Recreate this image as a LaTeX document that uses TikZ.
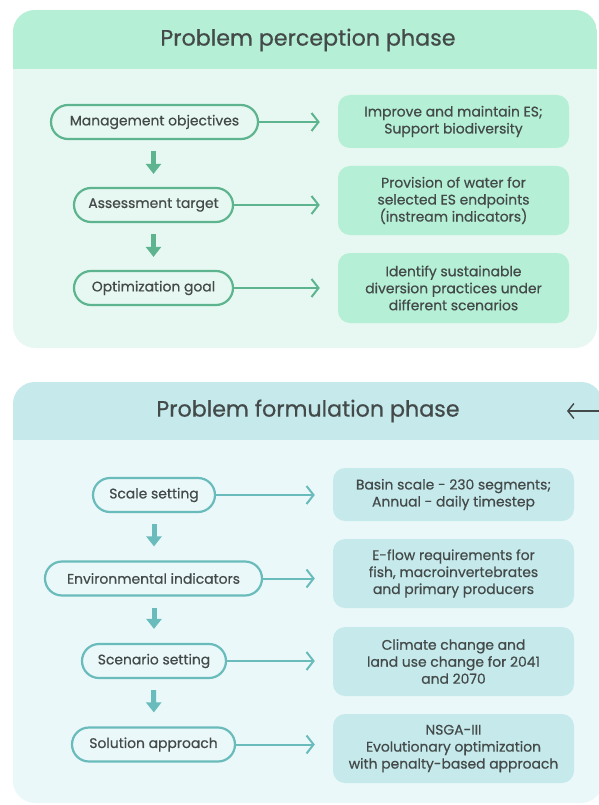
\documentclass[tikz,border=0pt]{standalone}
\usepackage{fontspec}
\setmainfont{Poppins}[FakeBold=0.6]
\usetikzlibrary{arrows.meta}
\definecolor{gHead}{HTML}{B4EFD6}
\definecolor{gBody}{HTML}{E6F8F1}
\definecolor{gLine}{HTML}{5DB48F}
\definecolor{cHead}{HTML}{C6EAEC}
\definecolor{cBody}{HTML}{EAF8F9}
\definecolor{cLine}{HTML}{6ABBBB}
\definecolor{txt}{HTML}{434A49}
\tikzset{
  bodytext/.style={text=txt, font=\fontsize{13.9}{17}\selectfont, align=center},
  titletext/.style={text=txt, font=\fontsize{22.2}{26}\selectfont},
  pill/.style={bodytext, draw=#1, line width=2.2pt, rounded corners=17pt, minimum height=34pt, inner sep=0pt},
  infobox/.style={bodytext, fill=#1, rounded corners=12pt, inner sep=0pt},
  sidearrow/.style={draw=#1, line width=2pt, -{Straight Barb[length=7pt,width=18pt,line width=2pt]}},
  downarrow/.style={draw=#1, line width=5pt, -{Triangle[length=10pt,width=15pt]}},
}
\begin{document}
\begin{tikzpicture}[x=1pt,y=-1pt]
\useasboundingbox (0,0) rectangle (598,805);
% panel 1
\fill[gBody, rounded corners=22pt] (13,10) rectangle (597,348);
\begin{scope}
  \clip[rounded corners=22pt] (13,10) rectangle (597,348);
  \fill[gHead] (13,10) rectangle (597,69);
\end{scope}
\node[titletext] (t1) at (308,40) {Problem perception phase};
% panel 2
\fill[cBody, rounded corners=22pt] (13,382) rectangle (603,803);
\begin{scope}
  \clip[rounded corners=22pt] (13,382) rectangle (603,803);
  \fill[cHead] (13,382) rectangle (603,440);
\end{scope}
\node[titletext] (t2) at (308,411) {Problem formulation phase};
\coordinate (ra1) at (606,411);
\coordinate (ra2) at (567,411);
\draw[draw=txt, line width=1.4pt, -{Straight Barb[length=6pt,width=15pt,line width=1.4pt]}] (ra1) -- (ra2);

% panel 1 pills
\node[pill=gLine, fill=gBody, minimum width=207pt] (mo) at (154.5,122) {Management objectives};
\node[pill=gLine, fill=gBody, minimum width=159pt] (at) at (153.5,205) {Assessment target};
\node[pill=gLine, fill=gBody, minimum width=159pt] (og) at (153.5,288) {Optimization goal};
% panel 1 boxes
\node[infobox=gHead, minimum width=231pt, minimum height=53pt] (b1) at (453.5,121.5) {Improve and maintain ES;\\Support biodiversity};
\node[infobox=gHead, minimum width=231pt, minimum height=69pt] (b2) at (453.5,200.5) {Provision of water for\\selected ES endpoints\\(instream indicators)};
\node[infobox=gHead, minimum width=231pt, minimum height=70pt] (b3) at (453.5,288) {Identify sustainable\\diversion practices under\\different scenarios};
\draw[sidearrow=gLine, shorten >=18pt] (mo.east) -- (mo.east -| b1.west);
\draw[sidearrow=gLine, shorten >=18pt] (at.east) -- (at.east -| b2.west);
\draw[sidearrow=gLine, shorten >=18pt] (og.east) -- (og.east -| b3.west);
\draw[downarrow=gLine, shorten <=11pt, shorten >=13pt] (mo.south -| at.north) -- (at.north);
\draw[downarrow=gLine, shorten <=11pt, shorten >=13pt] (at.south) -- (og.north);

% panel 2 pills
\node[pill=cLine, fill=cBody, minimum width=122pt] (ss) at (154,495) {Scale setting};
\node[pill=cLine, fill=cBody, minimum width=217pt] (ei) at (153.5,578.5) {Environmental indicators};
\node[pill=cLine, fill=cBody, minimum width=144pt] (sc) at (154,661) {Scenario setting};
\node[pill=cLine, fill=cBody, minimum width=163pt] (sa) at (153.5,744.5) {Solution approach};
% panel 2 boxes
\node[infobox=cHead, minimum width=241pt, minimum height=53pt] (c1) at (453.5,494.5) {Basin scale - 230 segments;\\Annual - daily timestep};
\node[infobox=cHead, minimum width=241pt, minimum height=69pt] (c2) at (453.5,573.5) {E-flow requirements for\\fish, macroinvertebrates\\and primary producers};
\node[infobox=cHead, minimum width=241pt, minimum height=69pt] (c3) at (453.5,661.5) {Climate change and\\land use change for 2041\\and 2070};
\node[infobox=cHead, minimum width=241pt, minimum height=69pt] (c4) at (453.5,748.5) {NSGA-III\\Evolutionary optimization\\with penalty-based approach};
\draw[sidearrow=cLine, shorten >=18pt] (ss.east) -- (ss.east -| c1.west);
\draw[sidearrow=cLine, shorten >=18pt] (ei.east) -- (ei.east -| c2.west);
\draw[sidearrow=cLine, shorten >=18pt] (sc.east) -- (sc.east -| c3.west);
\draw[sidearrow=cLine, shorten >=18pt] (sa.east) -- (sa.east -| c4.west);
\draw[downarrow=cLine, shorten <=11pt, shorten >=14pt] (ss.south) -- (ei.north -| ss.south);
\draw[downarrow=cLine, shorten <=11pt, shorten >=14pt] (ei.south -| sc.north) -- (sc.north);
\draw[downarrow=cLine, shorten <=11pt, shorten >=14pt] (sc.south -| sa.north) -- (sa.north -| sc.south);
\end{tikzpicture}
\end{document}
